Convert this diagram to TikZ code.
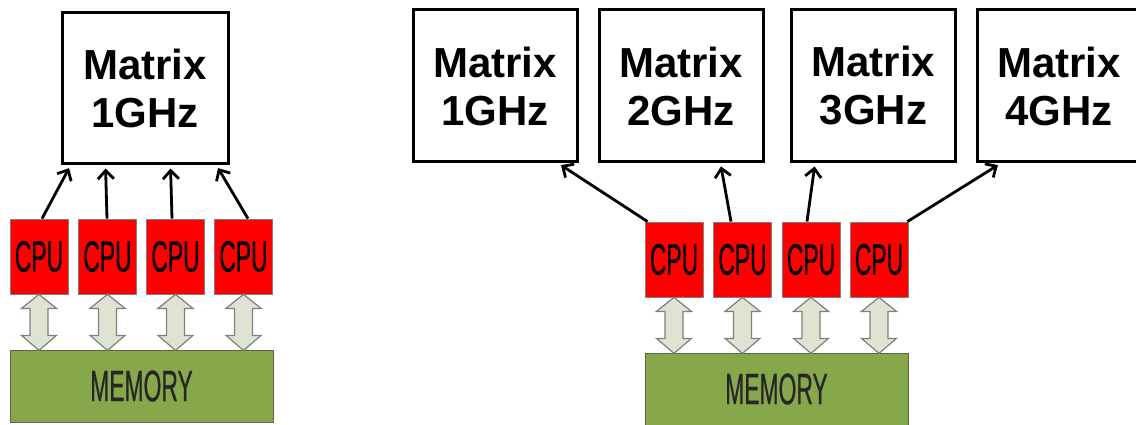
\documentclass[tikz,border=0pt]{standalone}
\usepackage{fontspec}
\setmainfont{Liberation Sans}
\newfontfamily\narrowfont[FakeStretch=0.52, FakeBold=0.4]{Liberation Sans}
\usetikzlibrary{arrows.meta,calc}
\definecolor{cpured}{RGB}{255,0,0}
\definecolor{memgreen}{RGB}{134,168,74}
\definecolor{memedge}{RGB}{90,100,70}
\definecolor{dblfill}{RGB}{222,228,209}
\definecolor{dbledge}{RGB}{128,128,128}
\tikzset{
  mbox/.style={draw=black, line width=3pt, fill=white, minimum width=164pt, minimum height=152pt,
    inner sep=0pt, align=center, font=\bfseries\fontsize{42}{48}\selectfont},
  cpubox/.style={draw=dbledge, line width=0.8pt, fill=cpured, minimum width=58pt, minimum height=75pt,
    inner sep=0pt, font=\narrowfont\fontsize{44}{48}\selectfont},
  membox/.style={draw=memedge, line width=1pt, fill=memgreen, minimum width=263pt, minimum height=72pt,
    inner sep=0pt, font=\narrowfont\fontsize{44}{48}\selectfont, text=black!85},
  link/.style={line width=2.8pt, -{Straight Barb[length=8.5pt,width=16pt]}, shorten >=3pt},
  dbl/.style={draw=dbledge, line width=1.2pt, fill=dblfill, line join=miter}
}
\begin{document}
\begin{tikzpicture}[x=1pt,y=-1pt]
\clip (0,0) rectangle (1136,425);
\fill[white] (0,0) rectangle (1136,425);
% ---------- left panel ----------
\node[mbox, minimum width=166pt, minimum height=151pt] (m0) at (145,88.5) {Matrix\\1GHz};
\node[cpubox] (a1) at (39,256.5) {CPU};
\node[cpubox] (a2) at (107.5,256.5) {CPU};
\node[cpubox] (a3) at (175.5,256.5) {CPU};
\node[cpubox] (a4) at (243.5,256.5) {CPU};
\node[membox] (mem0) at (141.5,386) {MEMORY};
\draw[link] ($(a1.north)+(3,0)$) -- ($(m0.south west)+(10,0)$);
\draw[link] ($(a2.north)+(-0.5,0)$) -- ($(m0.south west)+(45,0)$);
\draw[link] ($(a3.north)+(-3.5,0)$) -- ($(m0.south west)+(110,0)$);
\draw[link] ($(a4.north)+(4.5,0)$) -- ($(m0.south west)+(156,0)$);
\foreach \c in {a1,a2,a3,a4}{
  \draw[dbl, shift={(\c.south)}] (0,0) -- (17.5,14) -- (9,14) -- (9,41) -- (17.5,41) -- (0,56)
     -- (-17.5,41) -- (-9,41) -- (-9,14) -- (-17.5,14) -- cycle;
}
% ---------- right panel ----------
\node[mbox] (m1) at (495,86) {Matrix\\1GHz};
\node[mbox] (m2) at (681,86) {Matrix\\2GHz};
\node[mbox] (m3) at (873.5,86) {Matrix\\3GHz};
\node[mbox] (m4) at (1059,86) {Matrix\\4GHz};
\node[cpubox] (b1) at (674,259.5) {CPU};
\node[cpubox] (b2) at (742.5,259.5) {CPU};
\node[cpubox] (b3) at (811,259.5) {CPU};
\node[cpubox] (b4) at (879,259.5) {CPU};
\node[membox] (mem1) at (776.5,389) {MEMORY};
\draw[link] ($(b1.north west)+(3,0)$) -- ($(m1.south east)+(-20,0)$);
\draw[link] ($(b2.north)+(-11.5,0)$) -- ($(m2.south west)+(123,0)$);
\draw[link] ($(b3.north)+(-4,0)$) -- ($(m3.south west)+(25,0)$);
\draw[link] ($(b4.north east)+(-1,0)$) -- ($(m4.south west)+(25,0)$);
\foreach \c in {b1,b2,b3,b4}{
  \draw[dbl, shift={(\c.south)}] (0,0) -- (17.5,14) -- (9,14) -- (9,41) -- (17.5,41) -- (0,56)
     -- (-17.5,41) -- (-9,41) -- (-9,14) -- (-17.5,14) -- cycle;
}
\end{tikzpicture}
\end{document}
